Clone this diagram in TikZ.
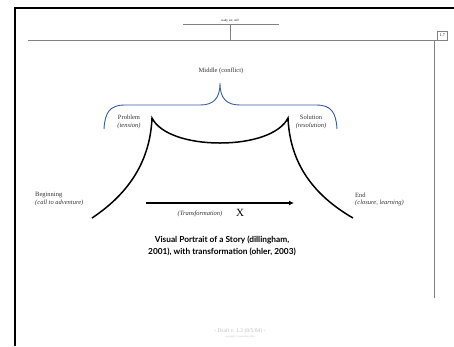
\documentclass[tikz,border=0pt]{standalone}
\usepackage{fontspec}
\setmainfont{Liberation Serif}
\newfontfamily\capfont{Lato}
\usetikzlibrary{arrows.meta}
\definecolor{bracecol}{RGB}{50,90,170}
\definecolor{rulegray}{RGB}{130,130,130}
\definecolor{faint}{RGB}{190,190,190}
\tikzset{
  lbl/.style={inner sep=0pt, font=\fontsize{6.5}{7}\selectfont, text=black!80},
  sublbl/.style={inner sep=0pt, font=\fontsize{6.5}{7}\selectfont\itshape, text=black!80},
  story/.style={line width=1.5pt, black},
  frame/.style={line width=1.4pt, black},
  thin/.style={line width=0.6pt, rulegray},
}
\begin{document}
\begin{tikzpicture}[x=1pt,y=-1pt]
\useasboundingbox (0,0) rectangle (454,346);
% frame
\draw[frame] (15,346) -- (15,8) -- (454,8);
\draw[thin] (28,40) -- (437,40);
\node[draw=rulegray, line width=0.5pt, inner sep=0pt, minimum width=10pt, minimum height=9pt, font=\fontsize{4}{4}\selectfont, anchor=south west] (pg) at (437,40) {1.7};
\coordinate (vtop) at (434,40);
\coordinate (vbot) at (434,298);
\draw[line width=1pt, rulegray] (vtop) -- (vbot);
\node[inner sep=0pt, font=\fontsize{3}{3}\selectfont] (hdr) at (230,21) {ready, set, tell!};
\coordinate (hl) at (183,24);
\coordinate (hr) at (279,24);
\coordinate (ht) at (230,24);
\coordinate (hb) at (230,40);
\draw[thin, line width=0.5pt] (hl) -- (hr);
\draw[thin, line width=0.5pt] (ht) -- (hb);
% labels
\node[lbl] (mid) at (221,71) {Middle (conflict)};
\node[lbl] (prob) at (129,117) {Problem};
\node[sublbl] (probs) at (129,126) {(tension)};
\node[lbl] (sol) at (311,117) {Solution};
\node[sublbl] (sols) at (311,126) {(resolution)};
\node[lbl, anchor=west] (beg) at (35,195) {Beginning};
\node[sublbl, anchor=west] (begs) at (35,203) {(call to adventure)};
\node[lbl, anchor=west] (end) at (355,195) {End};
\node[sublbl, anchor=west] (ends) at (355,203) {(closure, learning)};
% brace
\coordinate (bl) at (104,129);
\coordinate (tip) at (220,83);
\coordinate (br) at (337,129);
\draw[bracecol, line width=0.9pt] (bl) .. controls (105,112) and (110,105) .. (125,105)
  -- (200,105) .. controls (214,105) and (220,98) .. (tip)
  .. controls (220,98) and (226,105) .. (240,105)
  -- (316,105) .. controls (331,105) and (336,112) .. (br);
% story curve
\coordinate (s0) at (92,218);
\coordinate (p1) at (152,118);
\coordinate (m) at (220,143);
\coordinate (p2) at (288,118);
\coordinate (s1) at (353,218);
\draw[story] (s0) .. controls (125,196) and (150,165) .. (p1)
  .. controls (160,134) and (188,143) .. (m)
  .. controls (252,143) and (280,134) .. (p2)
  .. controls (290,165) and (315,196) .. (s1);
% arrow
\coordinate (a0) at (146,203);
\coordinate (a1) at (294,203);
\draw[line width=2pt, -{Latex[length=5pt,width=5pt]}] (a0) -- (a1);
\node[sublbl] (tr) at (200,214) {(Transformation)};
\node[inner sep=0pt, font=\fontsize{11}{11}\selectfont] (x) at (240,213) {X};
% caption
\node[inner sep=0pt, align=center, font=\capfont\bfseries\fontsize{8.3}{12}\selectfont] (cap) at (222,246)
  {Visual Portrait of a Story (dillingham,\\2001), with transformation (ohler, 2003)};
% footer
\node[inner sep=0pt, text=faint, font=\fontsize{5.5}{6}\selectfont] (ft) at (240,331) {- Draft v. 1.2 (8/5/04) -};
\node[inner sep=0pt, text=faint, font=\fontsize{2.5}{3}\selectfont] (ft2) at (240,337) {copyright \copyright\ jason ohler 2004};
\end{tikzpicture}
\end{document}
